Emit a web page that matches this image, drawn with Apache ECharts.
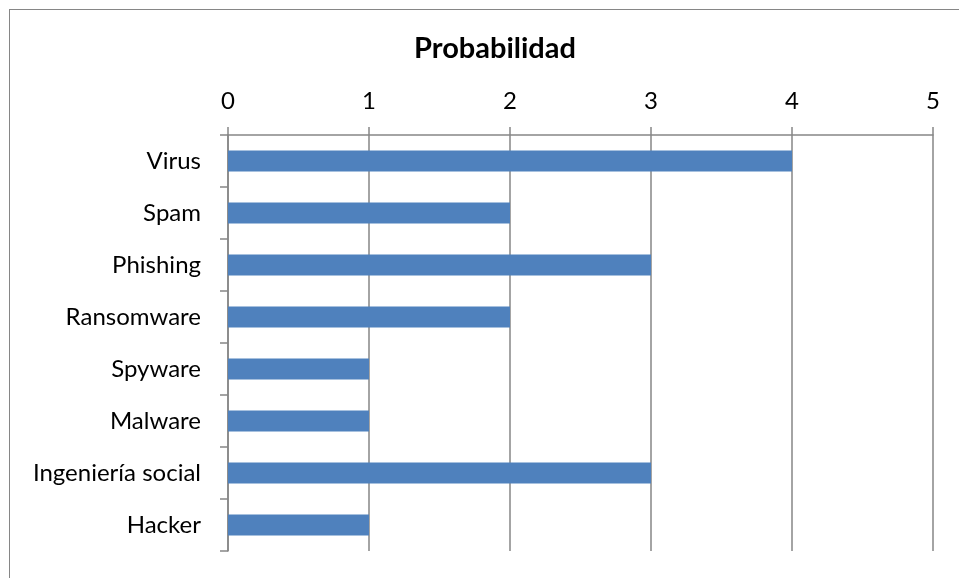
<!doctype html>
<html>
	<head>
		<meta charset="UTF-8">
		<title>Probabilidad</title>
		<script src="https://cdn.jsdelivr.net/npm/echarts@6/dist/echarts.min.js"></script>
		<style>
			html, body { margin: 0; padding: 0; background: #fff; overflow: hidden; }
			#box {
				position: absolute; left: 9px; top: 9px;
				width: 1000px; height: 700px;
				border: 1px solid #868686;
			}
			#chart { position: absolute; left: 0; top: 0; width: 959px; height: 578px; }
		</style>
	</head>
	<body>
		<div id="box"></div>
		<div id="chart"></div>
		<script type="text/javascript">
			var categorias = ['Virus', 'Spam', 'Phishing', 'Ransomware', 'Spyware', 'Malware', 'Ingeniería social', 'Hacker'];
			var valores = [4, 2, 3, 2, 1, 1, 3, 1];
			var ejeMax = 5;

			var myChart = echarts.init(document.getElementById('chart'));
			var option = {
				animation: false,
				title: {
					text: 'Probabilidad',
					left: 490,
					textAlign: 'center',
					top: 29,
					textStyle: {
						fontFamily: 'Lato',
						fontWeight: 'bold',
						fontSize: 29,
						color: '#000'
					}
				},
				grid: {
					left: 228,
					right: 26,
					top: 135,
					bottom: 27,
					containLabel: false
				},
				xAxis: {
					type: 'value',
					position: 'top',
					min: 0,
					max: ejeMax,
					interval: 1,
					axisLine: { show: true, lineStyle: { color: '#868686', width: 1.5 } },
					axisTick: { show: true, length: 8, lineStyle: { color: '#868686', width: 1.5 } },
					axisLabel: {
						margin: 22,
						fontFamily: 'Lato',
						fontSize: 24,
						color: '#000'
					},
					splitLine: { show: true, lineStyle: { color: '#868686', width: 1.5 } }
				},
				yAxis: {
					type: 'category',
					inverse: true,
					data: categorias,
					axisLine: { show: true, lineStyle: { color: '#868686', width: 1.5 } },
					axisTick: { show: true, length: 8, lineStyle: { color: '#868686', width: 1.5 } },
					axisLabel: {
						margin: 27,
						fontFamily: 'Lato',
						fontSize: 24,
						color: '#000'
					}
				},
				series: [{
					name: 'Probabilidad',
					type: 'bar',
					data: valores,
					barWidth: '40%',
					itemStyle: { color: '#4F81BD' }
				}]
			};
			myChart.setOption(option);
		</script>
	</body>
</html>
